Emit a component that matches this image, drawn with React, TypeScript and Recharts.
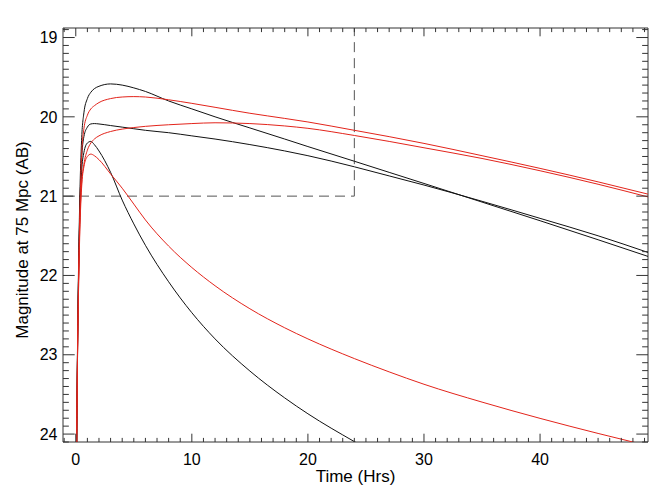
import React from "react";
import { LineChart, Line, XAxis, YAxis, ReferenceLine, ReferenceArea } from "recharts";

// Time grid (hours)
const times = [0, 0.08, 0.15, 0.25, 0.35, 0.5, 0.7, 1, 1.3, 1.6, 2, 3, 4, 5, 6, 8, 10, 12, 15, 18, 20, 24, 27, 30, 35, 40, 45, 49.3];

// Black curves
const black1 = [26, 24.1, 22.9, 21.8, 21.0, 20.3, 19.95, 19.77, 19.69, 19.645, 19.615, 19.585, 19.6, 19.635, 19.68, 19.8, 19.9, 20.0, 20.14, 20.28, 20.375, 20.56, 20.7, 20.84, 21.075, 21.31, 21.55, 21.76];
const black2 = [26, 24.1, 22.95, 21.9, 21.15, 20.55, 20.25, 20.13, 20.09, 20.085, 20.09, 20.11, 20.13, 20.15, 20.17, 20.2, 20.24, 20.28, 20.35, 20.43, 20.49, 20.63, 20.745, 20.86, 21.065, 21.28, 21.5, 21.71];
const black3 = [26, 24.1, 23.0, 21.95, 21.25, 20.7, 20.45, 20.33, 20.31, 20.35, 20.43, 20.7, 21.05, 21.35, 21.62, 22.08, 22.47, 22.8, 23.205, 23.544, 23.744, 24.095, 24.34, 24.57, 24.95, 25.3, 25.6, 25.85];

// Red curves
const red1 = [26, 24.1, 23.0, 21.95, 21.2, 20.5, 20.15, 19.98, 19.9, 19.86, 19.82, 19.77, 19.75, 19.745, 19.75, 19.785, 19.83, 19.88, 19.955, 20.02, 20.065, 20.17, 20.25, 20.335, 20.49, 20.65, 20.82, 20.975];
const red2 = [26, 24.1, 23.05, 22.05, 21.35, 20.85, 20.6, 20.42, 20.33, 20.28, 20.24, 20.185, 20.155, 20.135, 20.12, 20.1, 20.085, 20.075, 20.085, 20.115, 20.145, 20.235, 20.31, 20.39, 20.525, 20.68, 20.85, 21.01];
const red3 = [26, 24.1, 23.05, 22.1, 21.45, 20.9, 20.63, 20.5, 20.47, 20.49, 20.54, 20.72, 20.9, 21.1, 21.3, 21.63, 21.9, 22.13, 22.42, 22.66, 22.8, 23.048, 23.216, 23.372, 23.597, 23.802, 23.992, 24.147];

// Axes
const xDomain = [-1.1, 49.3];
const yDomain = [18.88, 24.1];
const xMajor = [0, 10, 20, 30, 40];
const yMajor = [19, 20, 21, 22, 23, 24];
const xTicks = Array.from({ length: 51 }, (_, i) => i - 1);
const yTicks = Array.from({ length: 53 }, (_, i) => Math.round((18.9 + i * 0.1) * 10) / 10);

// Dashed box limits
const limitTime = 24;
const limitMag = 21;

const data = times.map((t, i) => ({
  t,
  b1: black1[i],
  b2: black2[i],
  b3: black3[i],
  r1: red1[i],
  r2: red2[i],
  r3: red3[i],
}));

const W = 664;
const H = 494;
const M = { top: 28, right: 16, left: 0, bottom: 0 };
const YW = 63;
const XH = 52;
const PL = YW;
const PR = W - M.right;
const PT = M.top;
const PB = H - XH;

const FONT = "'Liberation Sans', Arial, Helvetica, sans-serif";
const TICK = "#333";

const XTick = (props: any) => {
  const { x, payload } = props;
  const v = payload.value;
  const major = xMajor.includes(v);
  const len = major ? 8.3 : 4.1;
  return (
    <g>
      <line x1={x} x2={x} y1={PB} y2={PB - len} stroke={TICK} strokeWidth={1} />
      <line x1={x} x2={x} y1={PT} y2={PT + len} stroke={TICK} strokeWidth={1} />
      {major && (
        <text x={x} y={465} textAnchor="middle" fontSize={16} fontFamily={FONT} fill="#000">
          {v}
        </text>
      )}
    </g>
  );
};

const YTick = (props: any) => {
  const { y, payload } = props;
  const v = payload.value;
  const major = yMajor.some((m) => Math.abs(m - v) < 1e-6);
  const len = major ? 11.7 : 5.85;
  return (
    <g>
      <line x1={PL} x2={PL + len} y1={y} y2={y} stroke={TICK} strokeWidth={1} />
      <line x1={PR} x2={PR - len} y1={y} y2={y} stroke={TICK} strokeWidth={1} />
      {major && (
        <text x={57.5} y={y + 5.7} textAnchor="end" fontSize={16} fontFamily={FONT} fill="#000">
          {Math.round(v)}
        </text>
      )}
    </g>
  );
};

const YLabel = () => (
  <text
    x={28}
    y={240}
    transform="rotate(-90, 28, 240)"
    textAnchor="middle"
    fontSize={17}
    fontFamily={FONT}
    fill="#000"
  >
    Magnitude at 75 Mpc (AB)
  </text>
);

const BLACK = "#111";
const RED = "#e3241b";

export default function App() {
  return (
    <div style={{ position: "absolute", left: 0, top: 0, width: W, height: H, background: "#fff" }}>
      <LineChart width={W} height={H} data={data} margin={M}>
        <XAxis
          dataKey="t"
          type="number"
          domain={xDomain}
          allowDataOverflow
          ticks={xTicks}
          interval={0}
          tick={<XTick />}
          tickLine={false}
          axisLine={false}
          height={XH}
          label={{ value: "Time (Hrs)", position: "insideBottom", offset: 12, fontSize: 17, fontFamily: FONT, fill: "#000" }}
        />
        <YAxis
          type="number"
          domain={yDomain}
          reversed
          allowDataOverflow
          ticks={yTicks}
          interval={0}
          tick={<YTick />}
          tickLine={false}
          axisLine={false}
          width={YW}
          label={{ content: <YLabel /> }}
        />
        <ReferenceArea
          x1={xDomain[0]}
          x2={xDomain[1]}
          y1={yDomain[0]}
          y2={yDomain[1]}
          fill="none"
          fillOpacity={0}
          stroke="#333"
          strokeWidth={1}
          ifOverflow="visible"
        />
        <ReferenceLine
          segment={[{ x: xDomain[0], y: limitMag }, { x: limitTime, y: limitMag }]}
          stroke="#555"
          strokeDasharray="10 6"
        />
        <ReferenceLine
          segment={[{ x: limitTime, y: limitMag }, { x: limitTime, y: yDomain[0] }]}
          stroke="#555"
          strokeDasharray="10 6"
        />
        <Line dataKey="b1" type="monotone" stroke={BLACK} strokeWidth={1} dot={false} isAnimationActive={false} />
        <Line dataKey="b2" type="monotone" stroke={BLACK} strokeWidth={1} dot={false} isAnimationActive={false} />
        <Line dataKey="b3" type="monotone" stroke={BLACK} strokeWidth={1} dot={false} isAnimationActive={false} />
        <Line dataKey="r1" type="monotone" stroke={RED} strokeWidth={1} dot={false} isAnimationActive={false} />
        <Line dataKey="r2" type="monotone" stroke={RED} strokeWidth={1} dot={false} isAnimationActive={false} />
        <Line dataKey="r3" type="monotone" stroke={RED} strokeWidth={1} dot={false} isAnimationActive={false} />
      </LineChart>
    </div>
  );
}
